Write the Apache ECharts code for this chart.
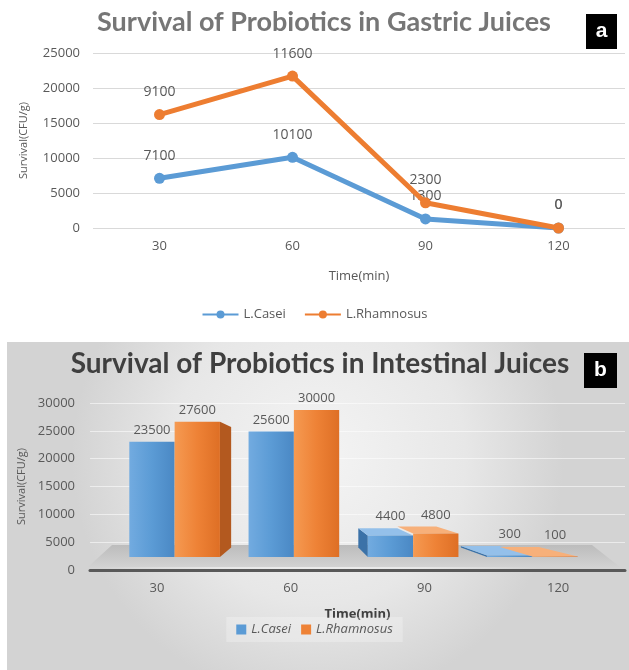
<!DOCTYPE html>
<html>
<head>
<meta charset="utf-8">
<script src="https://cdn.jsdelivr.net/npm/echarts@6/dist/echarts.min.js"></script>
<style>
  html, body { margin: 0; padding: 0; background: #ffffff; }
  #chart { width: 629px; height: 670px; }
</style>
</head>
<body>
<div id="chart"></div>
<script>
// Sampling times (minutes)
const timeLabels = ['30', '60', '90', '120'];

// Survival in gastric juices (CFU/g)
const gastricCasei = [7100, 10100, 1300, 0];
const gastricRhamnosus = [9100, 11600, 2300, 0];

// Survival in intestinal juices (CFU/g)
const intestinalCasei = [23500, 25600, 4400, 300];
const intestinalRhamnosus = [27600, 30000, 4800, 100];

// Value-axis ranges
const gastricMax = 25000;
const intestinalMax = 30000;
const tickStep = 5000;

const TEXT = '#595959';
const SMALL_FONT = 'Open Sans';
const TITLE_FONT = 'Lato';
const plainNumber = v => String(v);

// Colour set for the pseudo-3D columns
const bluePalette = { light: '#72abe0', mid: '#5b9bd5', dark: '#4a88c4', side: '#3b72a8', top: '#94c0ea' };
const orangePalette = { light: '#f59a52', mid: '#ee8236', dark: '#de6f25', side: '#b3591f', top: '#f7b07a' };

// Simple one-point perspective used for the column depth
const VANISH = [300, 470];
const KX = 0.14, KY = 0.11;
const toBack = p => [p[0] + KX * (VANISH[0] - p[0]), p[1] + KY * (VANISH[1] - p[1])];

function poly(points, fill) {
  return { type: 'polygon', shape: { points }, style: { fill } };
}

// side < 0 : column left of the category centre, side > 0 : right of it
function columnRenderer(side, pal) {
  return function (params, api) {
    const cat = api.value(0);
    const v = api.value(1);
    const band = api.size([1, 0])[0];
    const w = band * 0.38;
    const base = api.coord([cat, 0]);
    const top = api.coord([cat, v]);
    const x0 = side < 0 ? base[0] - w : base[0];
    const x1 = x0 + w;
    const yb = base[1], yt = top[1];
    const fTL = [x0, yt], fTR = [x1, yt], fBR = [x1, yb], fBL = [x0, yb];
    const bTL = toBack(fTL), bTR = toBack(fTR), bBR = toBack(fBR), bBL = toBack(fBL);
    const children = [];
    if (side > 0 && bTR[0] > x1) children.push(poly([fTR, bTR, bBR, fBR], pal.side));
    if (side < 0 && bTL[0] < x0) children.push(poly([fTL, bTL, bBL, fBL], pal.side));
    if (bTL[1] < yt) children.push(poly([fTL, bTL, bTR, fTR], pal.top));
    children.push({
      type: 'rect',
      shape: { x: x0, y: yt, width: w, height: Math.max(yb - yt, 0.5) },
      style: {
        fill: new echarts.graphic.LinearGradient(0, 0, 1, 0, [
          { offset: 0, color: pal.light },
          { offset: 0.5, color: pal.mid },
          { offset: 1, color: pal.dark }
        ])
      }
    });
    children.push({
      type: 'text',
      x: (x0 + x1) / 2,
      y: Math.min(yt, bTL[1]) - 5,
      style: {
        text: String(v),
        align: 'center', textAlign: 'center',
        verticalAlign: 'bottom', textVerticalAlign: 'bottom',
        fill: TEXT,
        fontSize: 13,
        fontFamily: SMALL_FONT
      }
    });
    return { type: 'group', children };
  };
}

const chart = echarts.init(document.getElementById('chart'), null, { renderer: 'canvas' });

chart.setOption({
  animation: false,
  backgroundColor: '#ffffff',
  textStyle: { fontFamily: SMALL_FONT },
  title: [
    {
      text: 'Survival of Probiotics in Gastric Juices',
      left: 319, top: 4, textAlign: 'center',
      textStyle: { fontFamily: TITLE_FONT, fontWeight: 'bold', fontSize: 27, color: '#767676' }
    },
    {
      text: 'Survival of Probiotics in Intestinal Juices',
      left: 315, top: 345, textAlign: 'center',
      textStyle: { fontFamily: TITLE_FONT, fontWeight: 'bold', fontSize: 28, color: '#3f3f3f' }
    }
  ],
  graphic: [
    {
      type: 'rect', z: -100,
      shape: { x: 7, y: 342, width: 622, height: 328 },
      style: {
        fill: new echarts.graphic.RadialGradient(0.5, 0.35, 0.75, [
          { offset: 0, color: '#f4f4f4' },
          { offset: 0.6, color: '#e7e7e7' },
          { offset: 1, color: '#d3d3d3' }
        ])
      }
    },
    {
      type: 'polygon', z: 1,
      shape: { points: [[112, 545], [592, 545], [620, 567], [88, 567]] },
      style: {
        fill: new echarts.graphic.LinearGradient(0, 0, 0, 1, [
          { offset: 0, color: '#bcbcbc' },
          { offset: 1, color: '#d2d2d2' }
        ])
      }
    },
    {
      type: 'group', left: 586, top: 14,
      children: [
        { type: 'rect', shape: { x: 0, y: 0, width: 31, height: 35 }, style: { fill: '#000000' } },
        { type: 'text', x: 15.5, y: 17.5, style: { text: 'a', fill: '#ffffff', font: 'bold 21px "Liberation Sans"', align: 'center', verticalAlign: 'middle' } }
      ]
    },
    {
      type: 'group', left: 584, top: 353,
      children: [
        { type: 'rect', shape: { x: 0, y: 0, width: 33, height: 35 }, style: { fill: '#000000' } },
        { type: 'text', x: 16.5, y: 17.5, style: { text: 'b', fill: '#ffffff', font: 'bold 21px "Liberation Sans"', align: 'center', verticalAlign: 'middle' } }
      ]
    }
  ],
  legend: [
    {
      data: ['L.Casei', 'L.Rhamnosus'],
      left: 'center', top: 303,
      itemWidth: 36, itemHeight: 10, itemGap: 18,
      textStyle: { color: TEXT, fontSize: 13, fontFamily: SMALL_FONT }
    },
    {
      data: [
        { name: 'Intestinal L.Casei', icon: 'rect', itemStyle: { color: bluePalette.mid } },
        { name: 'Intestinal L.Rhamnosus', icon: 'rect', itemStyle: { color: orangePalette.mid } }
      ],
      formatter: n => n.replace('Intestinal ', ''),
      left: 'center', top: 617,
      itemWidth: 10, itemHeight: 10, itemGap: 10,
      padding: [6, 10],
      backgroundColor: 'rgba(255,255,255,0.25)',
      textStyle: { color: TEXT, fontSize: 13, fontStyle: 'italic', fontFamily: SMALL_FONT }
    }
  ],
  grid: [
    { left: 93, right: 4, top: 53, bottom: 442 },
    { left: 90, right: 4, top: 403, bottom: 100 },
    { left: 115, right: 37, top: 410, bottom: 113 }
  ],
  xAxis: [
    {
      type: 'category', gridIndex: 0, data: timeLabels,
      axisLine: { show: false }, axisTick: { show: false },
      axisLabel: { color: TEXT, fontSize: 13, margin: 12 },
      name: 'Time(min)', nameLocation: 'middle', nameGap: 42,
      nameTextStyle: { color: TEXT, fontSize: 13 }
    },
    {
      type: 'category', gridIndex: 1, data: timeLabels,
      axisLine: { show: true, lineStyle: { color: '#595959', width: 3 } },
      axisTick: { show: false },
      axisLabel: { color: TEXT, fontSize: 13, margin: 12 },
      name: 'Time(min)', nameLocation: 'middle', nameGap: 38,
      nameTextStyle: { color: '#404040', fontSize: 13, fontWeight: 'bold' }
    },
    { type: 'category', gridIndex: 2, data: timeLabels, show: false }
  ],
  yAxis: [
    {
      type: 'value', gridIndex: 0, min: 0, max: gastricMax, interval: tickStep,
      axisLine: { show: false }, axisTick: { show: false },
      axisLabel: { color: TEXT, fontSize: 13, margin: 13, formatter: plainNumber },
      splitLine: { lineStyle: { color: '#d9d9d9', width: 1 } },
      name: 'Survival(CFU/g)', nameLocation: 'middle', nameGap: 64,
      nameTextStyle: { color: TEXT, fontSize: 11 }
    },
    {
      type: 'value', gridIndex: 1, min: 0, max: intestinalMax, interval: tickStep,
      axisLine: { show: false }, axisTick: { show: false },
      axisLabel: { color: TEXT, fontSize: 13, margin: 15, formatter: plainNumber },
      splitLine: { lineStyle: { color: 'rgba(255,255,255,0.55)', width: 1 } },
      name: 'Survival(CFU/g)', nameLocation: 'middle', nameGap: 63,
      nameTextStyle: { color: TEXT, fontSize: 11 }
    },
    { type: 'value', gridIndex: 2, min: 0, max: intestinalMax, show: false }
  ],
  series: [
    {
      name: 'L.Casei', type: 'line', xAxisIndex: 0, yAxisIndex: 0,
      stack: 'gastric', data: gastricCasei,
      symbol: 'circle', symbolSize: 11,
      itemStyle: { color: '#5b9bd5' },
      lineStyle: { color: '#5b9bd5', width: 5 },
      label: { show: true, position: 'top', distance: 10, color: TEXT, fontSize: 14 },
      z: 3
    },
    {
      name: 'L.Rhamnosus', type: 'line', xAxisIndex: 0, yAxisIndex: 0,
      stack: 'gastric', data: gastricRhamnosus,
      symbol: 'circle', symbolSize: 11,
      itemStyle: { color: '#ed7d31' },
      lineStyle: { color: '#ed7d31', width: 5 },
      label: { show: true, position: 'top', distance: 10, color: TEXT, fontSize: 14 },
      z: 4
    },
    {
      name: 'Intestinal L.Casei', type: 'custom', xAxisIndex: 2, yAxisIndex: 2,
      itemStyle: { color: bluePalette.mid },
      renderItem: columnRenderer(-1, bluePalette),
      data: intestinalCasei.map((v, i) => [i, v]),
      z: 3
    },
    {
      name: 'Intestinal L.Rhamnosus', type: 'custom', xAxisIndex: 2, yAxisIndex: 2,
      itemStyle: { color: orangePalette.mid },
      renderItem: columnRenderer(1, orangePalette),
      data: intestinalRhamnosus.map((v, i) => [i, v]),
      z: 4
    }
  ]
});
</script>
</body>
</html>
